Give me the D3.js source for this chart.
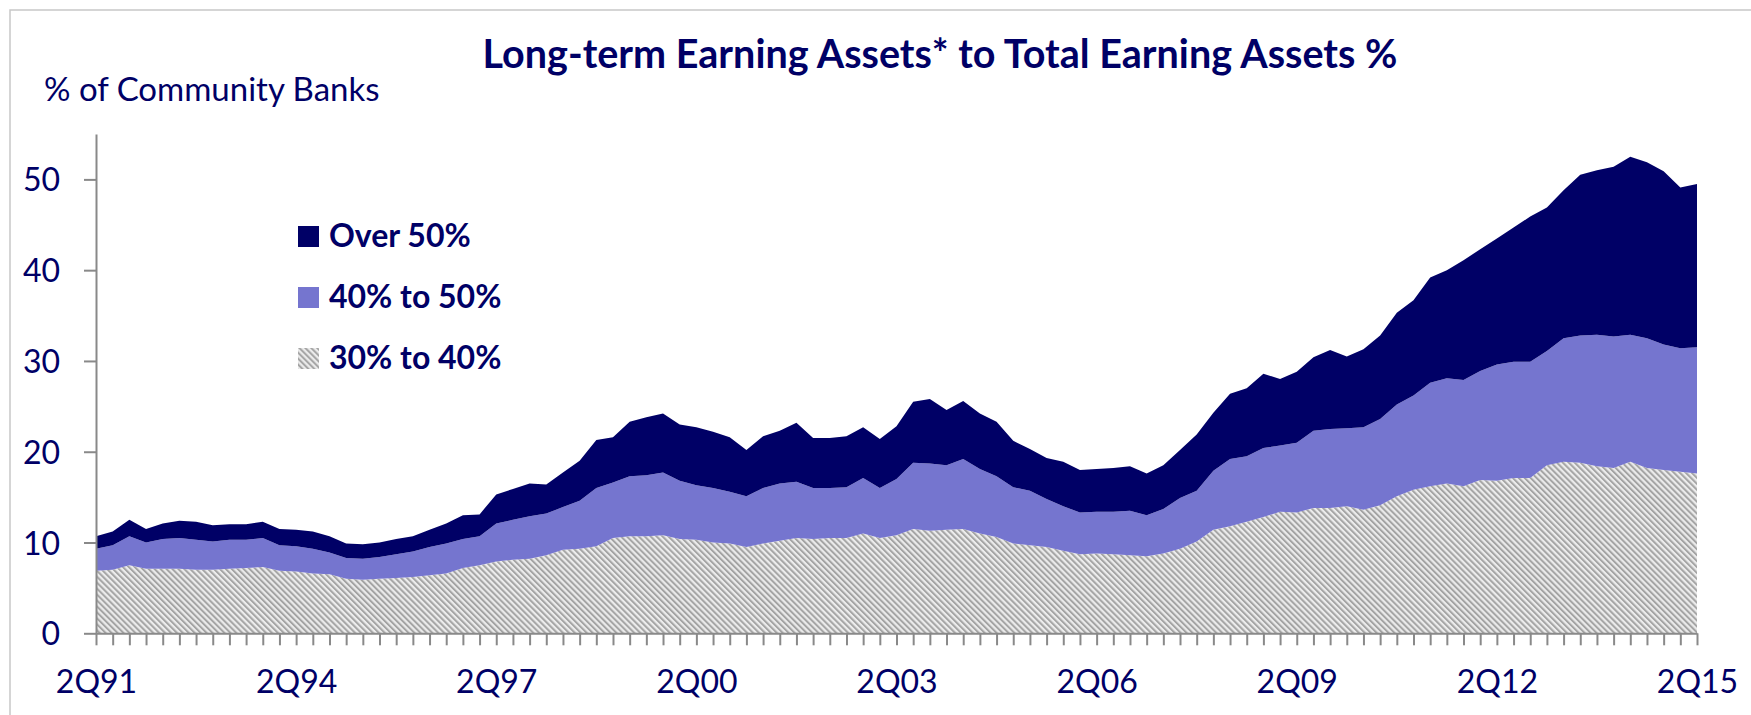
<!DOCTYPE html>
<html>
<head>
<meta charset="utf-8">
<script src="https://cdn.jsdelivr.net/npm/d3@7"></script>
<style>
  body { margin: 0; background: #fff; }
  svg { display: block; }
  text { font-family: Lato, "Open Sans", sans-serif; fill: #000066; }
</style>
</head>
<body>
<svg id="chart" width="1751" height="715"></svg>
<script>
// quarterly shares, 2Q91 .. 2Q15
const band30to40 = [6.9,7.0,7.5,7.1,7.1,7.1,7.0,7.0,7.1,7.2, 7.3,6.9,6.8,6.6,6.5,6.0,5.9,6.0,6.1,6.2,
  6.4,6.6,7.2,7.5,7.9,8.1,8.2,8.6,9.2,9.3, 9.6,10.5,10.7,10.7,10.8,10.4,10.3,10.0,9.9,9.5,
  9.9,10.2,10.5,10.4,10.5,10.5,11.0,10.5,10.8,11.5, 11.3,11.4,11.5,11.0,10.6,9.9,9.7,9.5,9.1,8.7,
  8.8,8.7,8.6,8.5,8.8,9.3,10.1,11.4,11.8,12.3, 12.8,13.4,13.3,13.8,13.8,14.0,13.6,14.1,15.1,15.8,
  16.2,16.5,16.2,16.9,16.8,17.1,17.1,18.5,18.9,18.8, 18.4,18.2,18.9,18.2,18.0,17.8,17.6];

const band40to50 = [2.4,2.7,3.2,2.9,3.3,3.4,3.3,3.1,3.2,3.1, 3.2,2.8,2.8,2.7,2.4,2.3,2.3,2.4,2.6,2.8,
  3.1,3.3,3.2,3.2,4.2,4.4,4.7,4.6,4.7,5.3, 6.4,6.1,6.6,6.7,6.9,6.4,6.0,6.0,5.7,5.6,
  6.1,6.3,6.2,5.6,5.5,5.6,6.1,5.5,6.2,7.3, 7.4,7.1,7.7,7.1,6.7,6.2,6.0,5.3,4.9,4.6,
  4.6,4.7,4.9,4.5,4.9,5.6,5.6,6.5,7.4,7.2, 7.6,7.3,7.7,8.5,8.7,8.6,9.1,9.5,10.1,10.4,
  11.4,11.6,11.7,12.0,12.8,12.8,12.8,12.6,13.6,14.0, 14.5,14.5,14.0,14.3,13.8,13.6,13.9];

const bandOver50 = [1.4,1.5,1.8,1.5,1.7,1.9,2.0,1.8,1.7,1.7, 1.8,1.8,1.8,1.9,1.8,1.6,1.6,1.6,1.7,1.7,
  1.9,2.2,2.6,2.4,3.2,3.4,3.6,3.2,3.8,4.4, 5.3,5.0,6.0,6.4,6.5,6.2,6.4,6.2,6.0,5.1,
  5.7,5.8,6.5,5.5,5.5,5.6,5.6,5.4,5.8,6.7, 7.1,6.1,6.4,6.1,6.0,5.1,4.6,4.5,4.9,4.7,
  4.7,4.8,4.9,4.6,4.8,5.3,6.2,6.4,7.2,7.5, 8.2,7.3,7.8,8.1,8.7,7.9,8.6,9.2,10.1,10.5,
  11.6,11.9,13.2,13.4,13.9,14.8,16.0,15.8,16.3,17.7, 18.1,18.7,19.6,19.4,19.1,17.7,18.0];

const xLabels = ["2Q91","2Q94","2Q97","2Q00","2Q03","2Q06","2Q09","2Q12","2Q15"];
const yTicks = [0,10,20,30,40,50];
const seriesKeys = ["s30","s40","s50"];
const seriesNames = {s50:"Over 50%", s40:"40% to 50%", s30:"30% to 40%"};

// category labels like 2Q91, 3Q91, 4Q91, 1Q92 ...
const quarters = band30to40.map((d,i) => {
  const q = (i + 1) % 4 + 1;
  const yr = 1991 + Math.floor((i + 1) / 4);
  return q + "Q" + String(yr).slice(2);
});

const rows = quarters.map((q,i) => ({q:q, s30:band30to40[i], s40:band40to50[i], s50:bandOver50[i]}));

const svg = d3.select("#chart");

const defs = svg.append("defs");
const hatch = defs.append("pattern")
  .attr("id","hatch")
  .attr("patternUnits","userSpaceOnUse")
  .attr("width",4.2)
  .attr("height",4.2)
  .attr("patternTransform","rotate(-45)");
hatch.append("rect").attr("width",4.2).attr("height",4.2).attr("fill","#ececec");
hatch.append("rect").attr("width",2).attr("height",4.2).attr("fill","#a4a4a4");

const fills = {s50:"#000066", s40:"#7575cf", s30:"url(#hatch)"};

// outer frame
svg.append("rect")
  .attr("x",10).attr("y",10)
  .attr("width",1800).attr("height",800)
  .attr("fill","none")
  .attr("stroke","#c8c8c8")
  .attr("stroke-width",1.5);

const x = d3.scalePoint().domain(quarters).range([96,1697]);
const y = d3.scaleLinear().domain([0,55]).range([633.3,134]);

const stack = d3.stack().keys(seriesKeys);
const layers = stack(rows);

const area = d3.area()
  .x(d => x(d.data.q))
  .y0(d => y(d[0]))
  .y1(d => y(d[1]));

svg.append("g")
  .selectAll("path")
  .data(layers)
  .enter()
  .append("path")
  .attr("d",area)
  .attr("fill",d => fills[d.key]);

// axes
const xAxis = d3.axisBottom(x)
  .tickSize(12)
  .tickSizeOuter(0)
  .tickFormat(d => xLabels.includes(d) ? d : "");

const gx = svg.append("g")
  .attr("transform","translate(0,633.3)")
  .call(xAxis);
gx.select(".domain").attr("stroke","#898989").attr("stroke-width",2);
gx.selectAll(".tick line").attr("stroke","#898989").attr("stroke-width",2);
gx.selectAll(".tick text")
  .attr("y",0).attr("dy",null)
  .attr("transform","translate(0,60)")
  .style("font-size","32px")
  .attr("fill","#000066");

const yAxis = d3.axisLeft(y)
  .tickValues(yTicks)
  .tickSize(12)
  .tickSizeOuter(0);

const gy = svg.append("g")
  .attr("transform","translate(96,0)")
  .call(yAxis);
gy.select(".domain").attr("stroke","#898989").attr("stroke-width",2);
gy.selectAll(".tick line").attr("stroke","#898989").attr("stroke-width",2);
gy.selectAll(".tick text")
  .attr("x",-36).attr("dy","0.36em")
  .style("font-size","32px")
  .attr("fill","#000066");
svg.selectAll(".tick text").attr("font-family",null);

// titles
svg.append("text")
  .attr("x",940).attr("y",68)
  .attr("text-anchor","middle")
  .style("font-size","39.5px")
  .style("font-weight","bold")
  .text("Long-term Earning Assets* to Total Earning Assets %");

svg.append("text")
  .attr("x",44).attr("y",101)
  .style("font-size","33px")
  .text("% of Community Banks");

// legend
const legendOrder = ["s50","s40","s30"];
const lg = svg.append("g")
  .selectAll("g")
  .data(legendOrder)
  .enter()
  .append("g")
  .attr("transform",(d,i) => "translate(298," + (226 + i * 61) + ")");
lg.append("rect")
  .attr("width",21).attr("height",21)
  .attr("fill",d => fills[d]);
lg.append("text")
  .attr("x",31).attr("y",21)
  .style("font-size","32px")
  .style("font-weight","bold")
  .text(d => seriesNames[d]);
</script>
</body>
</html>
